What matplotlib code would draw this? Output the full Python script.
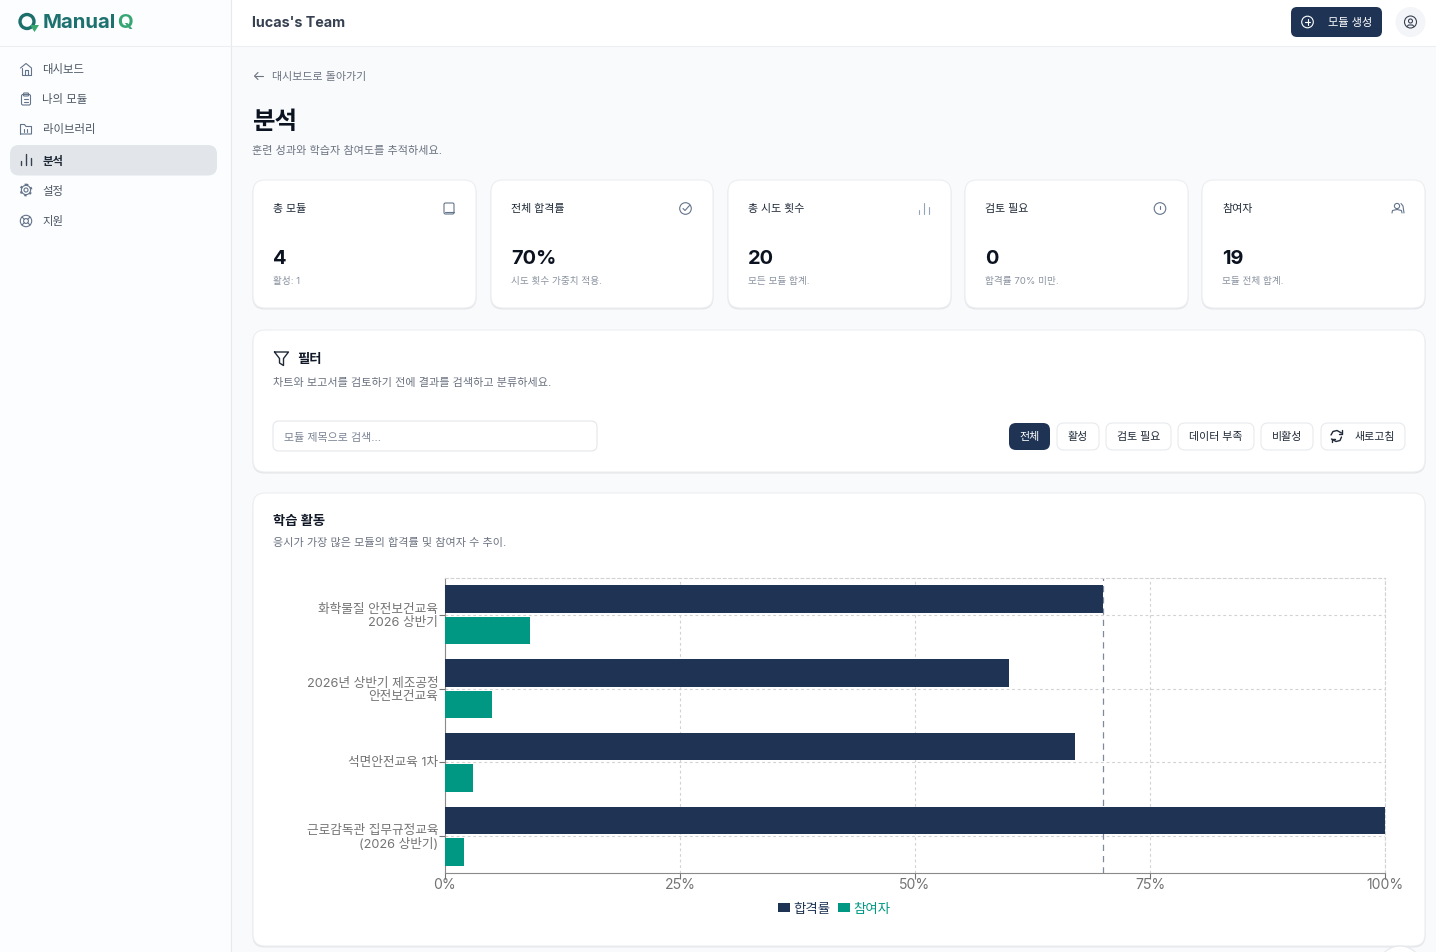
import matplotlib
matplotlib.use("Agg")
import matplotlib.pyplot as plt
from matplotlib.patches import FancyBboxPatch, Circle, Rectangle, Polygon
from matplotlib.ticker import FuncFormatter
from matplotlib.transforms import ScaledTranslation

plt.rcParams['font.family'] = ['Inter', 'Noto Sans CJK KR', 'DejaVu Sans']

# chart data
modules = ['화학물질 안전보건교육\n2026 상반기', '2026년 상반기 제조공정\n안전보건교육',
           '석면안전교육 1차', '근로감독관 집무규정교육\n(2026 상반기)']
pass_rate = [70, 60, 67, 100]
participants = [9, 5, 3, 2]
x_ticks = [0, 25, 50, 75, 100]
pass_target = 70

# page text
nav_items = ['대시보드', '나의 모듈', '라이브러리', '분석', '설정', '지원']
card_titles = ['총 모듈', '전체 합격률', '총 시도 횟수', '검토 필요', '참여자']
card_values = ['4', '70%', '20', '0', '19']
card_notes = ['활성: 1', '시도 횟수 가중치 적용.', '모든 모듈 합계.', '합격률 70% 미만.', '모듈 전체 합계.']
filter_labels = ['전체', '활성', '검토 필요', '데이터 부족', '비활성', '새로고침']

NAVY = '#1f3454'
TEAL = '#009882'
GRAY = '#6b7280'
ICON = '#64748b'
W, H = 1436, 953


def pt(px):
    return px * 0.72


fig = plt.figure(figsize=(W / 100, H / 100), dpi=100, facecolor='#f9fafb')
ui = fig.add_axes([0, 0, 1, 1])
ui.set_xlim(0, W)
ui.set_ylim(H - 1, -1)
ui.axis('off')


def box(x0, y0, x1, y1, r=6, fc='white', ec='none', lw=1.0, z=2):
    p = FancyBboxPatch((x0 + r, y0 + r), x1 - x0 - 2 * r, y1 - y0 - 2 * r,
                       boxstyle=f'round,pad={r},rounding_size={r}',
                       fc=fc, ec=ec, lw=lw, zorder=z)
    ui.add_patch(p)


def card(x0, y0, x1, y1):
    box(x0 - 0.5, y0 + 1, x1 + 0.5, y1 + 1.5, r=12, fc='#e3e5e8', z=1)
    box(x0, y0, x1, y1, r=12, fc='white', ec='#eceef1', lw=0.8, z=2)


def txt(x, y, s, px, color='#111827', weight='normal', ha='left', z=5):
    ui.text(x, y, s, fontsize=pt(px), color=color, fontweight=weight, ha=ha, va='center', zorder=z)


def line(xs, ys, color=ICON, lw=0.8, z=5):
    ui.plot(xs, ys, color=color, lw=lw, solid_capstyle='round', solid_joinstyle='round', zorder=z)


def ring(x, y, r, color=ICON, lw=0.8, fc='none', z=5):
    ui.add_patch(Circle((x, y), r, fc=fc, ec=color, lw=lw, zorder=z))


def outline(x0, y0, x1, y1, r=2, color=ICON, lw=0.8):
    box(x0, y0, x1, y1, r=r, fc='none', ec=color, lw=lw, z=5)


def bars_icon(x, y, color=ICON, lw=1.0):
    line([x - 5, x - 5], [y + 5, y + 1], color, lw)
    line([x, x], [y + 5, y - 6], color, lw)
    line([x + 5, x + 5], [y + 5, y - 2], color, lw)


# sidebar and header
ui.add_patch(Rectangle((0, -1), 231, H, fc='#fcfdfe', ec='none', zorder=1))
ui.add_patch(Rectangle((231, -1), W - 231, 47, fc='white', ec='none', zorder=1))
line([230.5, 230.5], [-1, H], '#e6e9ee', 0.8, z=2)
line([0, W], [45.5, 45.5], '#eceef1', 0.8, z=2)

# logo
ring(27, 21.5, 7, '#1d6f6b', 2.4)
ui.add_patch(Polygon([[30, 25], [39, 25], [34.5, 32]], fc='#3aa76d', ec='none', zorder=6))
txt(42.5, 22, 'Manual', 20.3, '#1d7270', 'bold')
txt(117.5, 22, 'Q', 20.3, '#37a673', 'bold')

# nav
nav_y = [69, 99, 129, 160, 190, 220]
box(10, 145, 217, 175.5, r=9, fc='#e2e6ea')
for i, (label, y) in enumerate(zip(nav_items, nav_y)):
    active = i == 3
    txt(42.5, y, label, 11.4, '#1f2937' if active else '#4b5563', 'bold' if active else 'normal')
# home
line([20.5, 26, 31.5], [68, 63.5, 68])
line([21.5, 21.5, 30.5, 30.5], [67.5, 74.5, 74.5, 67.5])
line([24.5, 24.5, 27.5, 27.5], [74.5, 70, 70, 74.5])
# clipboard
outline(21.5, 94.5, 30.5, 105, r=1.5)
outline(23.5, 93, 28.5, 96, r=0.8)
line([24, 28], [99, 99])
line([24, 28], [102, 102])
# folder
line([20.5, 20.5, 24.5, 26, 31.5, 31.5, 20.5], [134, 124.5, 124.5, 126.5, 126.5, 134, 134])
line([24, 24], [129, 132])
line([27, 27], [129, 132])
bars_icon(26, 160, '#374151')
# gear
ring(26, 190, 2)
ring(26, 190, 4.6)
ui.add_patch(Circle((26, 190), 5.4, fc='none', ec=ICON, lw=1.4, ls=(0, (1.2, 1.6)), zorder=5))
# support
ring(26, 221, 5.7)
ring(26, 221, 2.4)
for dx, dy in [(1, 1), (1, -1), (-1, 1), (-1, -1)]:
    line([26 + 1.7 * dx, 26 + 4 * dx], [221 + 1.7 * dy, 221 + 4 * dy])

# header content
txt(252, 22, "lucas's Team", 14.3, '#374151', 'bold')
box(1291, 7, 1382, 37, r=6, fc=NAVY)
ring(1307.5, 22, 5.8, 'white')
line([1304.8, 1310.2], [22, 22], 'white')
line([1307.5, 1307.5], [19.3, 24.7], 'white')
txt(1328, 22, '모듈 생성', 11.2, 'white')
ui.add_patch(Circle((1410.5, 22), 15, fc='#f3f5f8', ec='none', zorder=3))
ring(1410.5, 22, 6, '#374151')
ring(1410.5, 21, 2, '#374151')
line([1407, 1408.5, 1412.5, 1414], [26.5, 25, 25, 26.5], '#374151')

# page heading
line([254.5, 263], [76, 76], GRAY)
line([258, 254.5, 258], [72.5, 76, 79.5], GRAY)
txt(272, 76, '대시보드로 돌아가기', 11, GRAY)
txt(252, 121.5, '분석', 24.5, '#0b1220', 'bold')
txt(252, 150, '훈련 성과와 학습자 참여도를 추적하세요.', 11.1, GRAY)

# stat cards
card_x = [(253, 476), (491, 713), (728, 951), (965, 1188), (1202, 1425)]
for (x0, x1), title, value, note in zip(card_x, card_titles, card_values, card_notes):
    card(x0, 180, x1, 308)
    txt(x0 + 20, 208, title, 11, '#1f2937', 'medium')
    txt(x0 + 20, 258, value, 20, '#0b1220', 'bold')
    txt(x0 + 20, 280, note, 9.6, '#8a93a0')
# card icons
outline(444, 203, 454, 214, r=1.5)
line([444.5, 453.5], [211.5, 211.5])
ring(685.5, 208.5, 5.8)
line([683, 685, 689.5], [208.5, 210.5, 205.5])
bars_icon(923.5, 209, '#94a3b8', 0.8)
ring(1160, 208.5, 5.8)
line([1160, 1160], [205.5, 208.5])
line([1160, 1160], [211, 211.2])
ring(1397, 206, 2.6)
line([1392, 1392.5, 1397, 1401.5, 1402], [213, 210.5, 209.5, 210.5, 213])
line([1401, 1403, 1404], [203.5, 206, 213])

# filter card
card(253, 330, 1425, 472)
line([274.5, 288.5, 283.5, 283.5, 279.5, 279.5, 274.5], [352, 352, 358.5, 365.5, 363, 358.5, 352], '#1f2937', 1.0)
txt(297, 359, '필터', 13.3, '#111827', 'bold')
txt(273, 382, '차트와 보고서를 검토하기 전에 결과를 검색하고 분류하세요.', 11.1, GRAY)
box(273, 421, 597, 451, r=6, fc='white', ec='#e5e7eb', lw=0.8, z=3)
txt(284, 437, '모듈 제목으로 검색...', 11, '#7b8494')

btn_x = [(1009, 1050), (1057, 1099), (1106, 1171), (1178, 1254), (1261, 1313), (1321, 1405)]
for i, ((x0, x1), label) in enumerate(zip(btn_x, filter_labels)):
    if i == 0:
        box(x0, 423, x1, 450, r=7, fc=NAVY, z=3)
        txt((x0 + x1) / 2, 436, label, 11, 'white', 'medium', ha='center')
    elif i == 5:
        box(x0, 423, x1, 450, r=7, fc='white', ec='#e8eaee', lw=0.8, z=3)
        txt(1355, 436, label, 11, '#1f2937', 'medium')
    else:
        box(x0, 423, x1, 450, r=7, fc='white', ec='#e8eaee', lw=0.8, z=3)
        txt((x0 + x1) / 2, 436, label, 11, '#1f2937', 'medium', ha='center')
line([1331, 1333, 1337, 1341.5], [435, 431.5, 430.5, 433], '#1f2937', 1.0)
line([1341.5, 1340, 1336, 1331.5], [437, 440.5, 441.5, 439], '#1f2937', 1.0)
line([1341.5, 1341.5, 1338.5], [430, 433.5, 433.5], '#1f2937', 1.0)
line([1331.5, 1331.5, 1334.5], [442, 438.5, 438.5], '#1f2937', 1.0)

# chart card
card(253, 493, 1425, 946)
txt(273, 521, '학습 활동', 13.3, '#111827', 'bold')
txt(273, 542, '응시가 가장 많은 모듈의 합격률 및 참여자 수 추이.', 11.1, GRAY)
ui.add_patch(Circle((1400, 968), 22, fc='white', ec='#e5e7eb', lw=0.8, zorder=3))

# bar chart, same axis for both series
left, right, top, bottom = 445, 1385, 579, 874
ax = fig.add_axes([left / W, 1 - bottom / H, (right - left) / W, (bottom - top) / H], facecolor='none')
ax.set_zorder(10)
pos = list(range(len(modules)))
bar_h = 0.375
off = 0.213
ax.barh([p - off for p in pos], pass_rate, height=bar_h, color=NAVY, label='합격률', zorder=3)
ax.barh([p + off for p in pos], participants, height=bar_h, color=TEAL, label='참여자', zorder=3)
ax.axvline(pass_target, color='#7c8a99', lw=0.9, ls=(0, (5, 4)), zorder=2)
ax.set_xlim(0, 100)
ax.set_ylim(len(modules) - 0.5, -0.5)
ax.set_xticks(x_ticks)
ax.xaxis.set_major_formatter(FuncFormatter(lambda v, _: f'{v:.0f}%'))
ax.set_yticks(pos)
ax.set_yticklabels(modules, linespacing=1.15)
ax.tick_params(axis='x', labelsize=pt(14), labelcolor='#737373', color='#737373',
               length=4.5, width=0.8, pad=-1.5)
ax.tick_params(axis='y', labelsize=pt(12.7), labelcolor='#737373', color='#737373',
               length=4.5, width=0.8, pad=0.3)
# labels sit a little above the tick in the original
lift = ScaledTranslation(0, 1.5 / 100, fig.dpi_scale_trans)
for lab in ax.get_yticklabels():
    lab.set_transform(lab.get_transform() + lift)
ax.grid(True, color='#d2d2d2', lw=0.8, ls=(0, (2.5, 2.5)), zorder=0)
for side in ['top', 'right']:
    ax.spines[side].set_color('#d2d2d2')
    ax.spines[side].set_linewidth(0.8)
    ax.spines[side].set_linestyle((0, (2.5, 2.5)))
for side in ['left', 'bottom']:
    ax.spines[side].set_color('#8a8a8a')
    ax.spines[side].set_linewidth(0.8)
ax.legend(loc='center', bbox_to_anchor=((834 - left) / (right - left), -0.118), ncol=2, frameon=False,
          fontsize=pt(13.4), handlelength=0.9, handleheight=0.65, handletextpad=0.25,
          columnspacing=0.55, labelcolor=[NAVY, TEAL])

fig.savefig('out.png', dpi=100, facecolor=fig.get_facecolor())
